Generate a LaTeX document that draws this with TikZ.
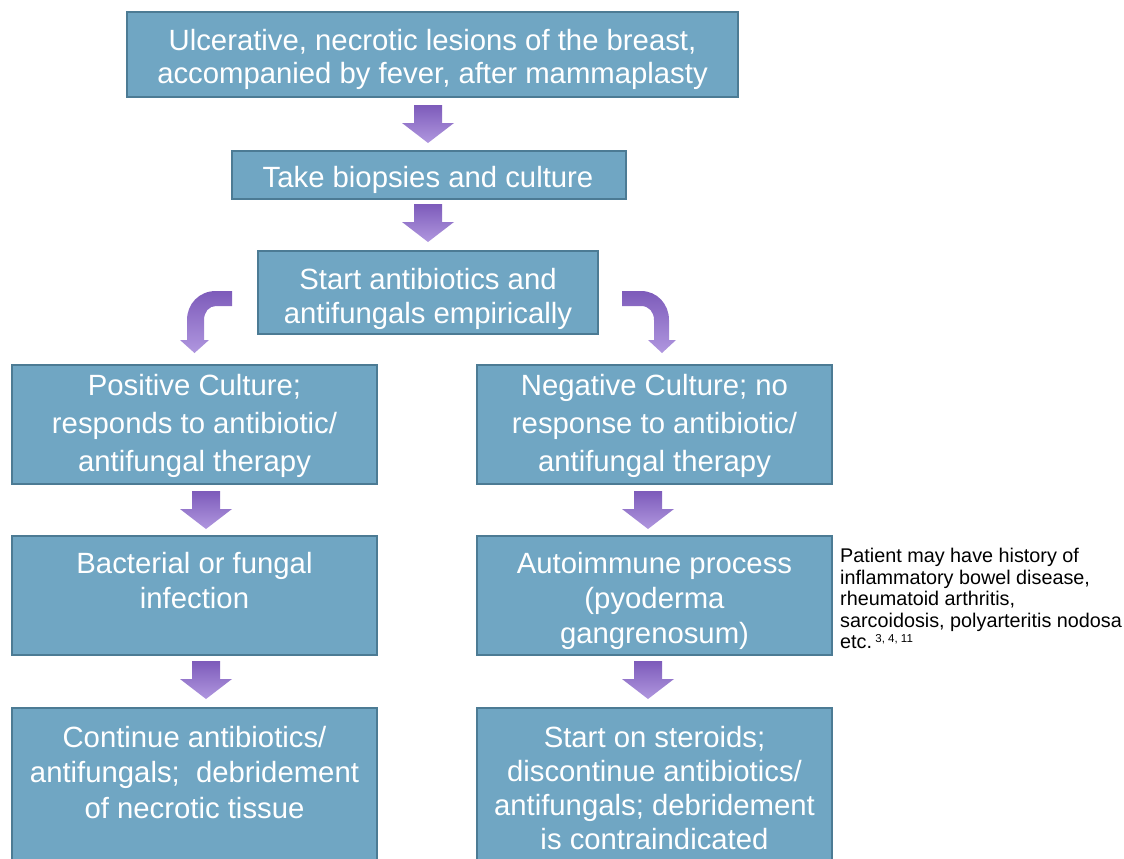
\documentclass[tikz,border=0pt]{standalone}
\usepackage{fontspec}
\setmainfont{Liberation Sans}
\definecolor{boxfill}{HTML}{70A6C3}
\definecolor{boxline}{HTML}{4C7B94}
\definecolor{arrdark}{HTML}{7D5BBA}
\definecolor{arrlight}{HTML}{B097DF}
\begin{document}
\begin{tikzpicture}[x=1pt,y=-1pt,
  box/.style={draw=boxline, fill=boxfill, line width=1.5pt, anchor=north west, inner sep=0pt, outer sep=0pt},
  btext/.style={text=white, font=\fontsize{29.3}{35}\selectfont, align=center, anchor=north, inner sep=0pt},
  note/.style={text=black, font=\fontsize{19.8}{21.5}\selectfont, align=left, anchor=north west, inner sep=0pt},
  arrowshade/.style={top color=arrdark, bottom color=arrlight, draw=none},
  darrow/.pic={\shade[arrowshade] (-14,0) -- (14,0) -- (14,18) -- (26,18) -- (0,38) -- (-26,18) -- (-14,18) -- cycle;}
]
\useasboundingbox (0,0) rectangle (1124,859);
\clip (0,0) rectangle (1124,859);

% boxes
\node[box, minimum width=611, minimum height=85] (b1) at (127,12) {};
\node[box, minimum width=394, minimum height=48] (b2) at (232,151) {};
\node[box, minimum width=340, minimum height=83] (b3) at (258,251) {};
\node[box, minimum width=365, minimum height=119] (b4l) at (12,365) {};
\node[box, minimum width=355, minimum height=119] (b4r) at (477,365) {};
\node[box, minimum width=365, minimum height=119] (b5l) at (12,536) {};
\node[box, minimum width=355, minimum height=119] (b5r) at (477,536) {};
\node[box, minimum width=365, minimum height=170] (b6l) at (12,708) {};
\node[box, minimum width=355, minimum height=170] (b6r) at (477,708) {};

% texts
\node[btext, font=\fontsize{29.3}{33.5}\selectfont] (t1) at (432.5,29) {Ulcerative, necrotic lesions of the breast,\\accompanied by fever, after mammaplasty};
\node[btext] (t2) at (428,166) {Take biopsies and culture};
\node[btext, font=\fontsize{29.3}{34}\selectfont] (t3) at (428,268) {Start antibiotics and\\antifungals empirically};
\node[btext, font=\fontsize{29.3}{38}\selectfont] (t4l) at (194.5,374) {Positive Culture;\\responds to antibiotic/\\antifungal therapy};
\node[btext, font=\fontsize{29.3}{38}\selectfont] (t4r) at (654.5,374) {Negative Culture; no\\response to antibiotic/\\antifungal therapy};
\node[btext] (t5l) at (194.5,552) {Bacterial or fungal\\infection};
\node[btext] (t5r) at (654.5,552) {Autoimmune process\\(pyoderma\\gangrenosum)};
\node[btext, font=\fontsize{29.3}{35.5}\selectfont] (t6l) at (194.5,726) {Continue antibiotics/\\antifungals;\ \ debridement\\of necrotic tissue};
\node[btext, font=\fontsize{29.3}{34}\selectfont] (t6r) at (654.5,726) {Start on steroids;\\discontinue antibiotics/\\antifungals; debridement\\is contraindicated};

\node[note] (n1) at (840,548) {Patient may have history of\\inflammatory bowel disease,\\rheumatoid arthritis,\\sarcoidosis, polyarteritis nodosa\\etc.\,{\fontsize{11.5}{11.5}\selectfont\raisebox{6.5pt}{3, 4, 11}}};

% straight block arrows
\pic at (428,105) {darrow};
\pic at (428,204) {darrow};
\pic at (206,491) {darrow};
\pic at (648,491) {darrow};
\pic at (206,661) {darrow};
\pic at (648,661) {darrow};

% bent block arrows
\shade[arrowshade] (232,291) -- (216,291) .. controls (199,291) and (187,304) .. (187,320)
  -- (187,340) -- (180,340) -- (194.5,353) -- (209,340) -- (204,340) -- (204,320)
  .. controls (204,312) and (209,306) .. (216,306) -- (232,306) -- cycle;
\shade[arrowshade] (622,291) -- (641,291) .. controls (657,291) and (669,304) .. (669,320)
  -- (669,340) -- (676,340) -- (662,353) -- (648,340) -- (654,340) -- (654,320)
  .. controls (654,312) and (649,306) .. (641,306) -- (622,306) -- cycle;
\end{tikzpicture}
\end{document}
